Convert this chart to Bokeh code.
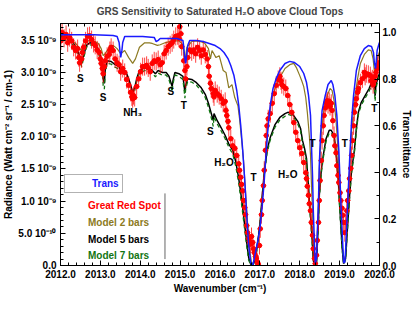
import numpy as np
from bokeh.plotting import figure
from bokeh.models import (Range1d, LinearAxis, FixedTicker, Legend, LegendItem,
                          ColumnDataSource, PrintfTickFormatter, CustomLabelingPolicy)
from bokeh.embed import file_html
from bokeh.resources import INLINE
from bokeh.core.properties import value

# ---------------- data ----------------
trans_wn = [2012.00, 2012.33, 2012.83, 2013.32, 2013.42, 2013.47, 2013.49, 2013.51, 2013.54, 2013.56,
            2013.61, 2014.06, 2014.35, 2014.40, 2014.45, 2014.50, 2014.92, 2015.07, 2015.09, 2015.11,
            2015.14, 2015.16, 2015.19, 2015.24, 2015.41, 2015.58, 2015.73, 2015.88, 2016.00, 2016.10,
            2016.20, 2016.27, 2016.35, 2016.42, 2016.47, 2016.52, 2016.57, 2016.62, 2016.67, 2016.72,
            2016.77, 2016.82, 2016.86, 2016.91, 2016.96, 2017.01, 2017.06, 2017.11, 2017.16, 2017.21,
            2017.26, 2017.33, 2017.41, 2017.50, 2017.63, 2017.75, 2017.87, 2018.00, 2018.10, 2018.17,
            2018.22, 2018.27, 2018.29, 2018.32, 2018.34, 2018.37, 2018.39, 2018.42, 2018.44, 2018.47,
            2018.49, 2018.52, 2018.56, 2018.64, 2018.71, 2018.79, 2018.83, 2018.88, 2018.93, 2018.98,
            2019.03, 2019.08, 2019.10, 2019.13, 2019.15, 2019.20, 2019.25, 2019.30, 2019.35, 2019.42,
            2019.52, 2019.62, 2019.72, 2019.80, 2019.85, 2019.87, 2019.90, 2019.92, 2019.94, 2019.99,
            2020.01]
trans_val = [0.990, 0.990, 0.990, 0.987, 0.983, 0.957, 0.923, 0.893, 0.923, 0.957,
             0.983, 0.983, 0.979, 0.961, 0.966, 0.974, 0.974, 0.966, 0.940, 0.900,
             0.867, 0.900, 0.944, 0.966, 0.966, 0.961, 0.953, 0.944, 0.931, 0.914,
             0.888, 0.858, 0.815, 0.751, 0.687, 0.601, 0.494, 0.365, 0.215, 0.086,
             0.013, 0.000, 0.030, 0.073, 0.116, 0.172, 0.258, 0.365, 0.494, 0.601,
             0.687, 0.760, 0.803, 0.837, 0.867, 0.876, 0.871, 0.854, 0.824, 0.785,
             0.730, 0.644, 0.536, 0.386, 0.236, 0.086, 0.009, 0.030, 0.129, 0.279,
             0.429, 0.558, 0.665, 0.730, 0.777, 0.794, 0.777, 0.730, 0.644, 0.494,
             0.279, 0.086, 0.013, 0.013, 0.064, 0.258, 0.451, 0.622, 0.730, 0.837,
             0.901, 0.931, 0.944, 0.940, 0.914, 0.871, 0.845, 0.880, 0.923, 0.953,
             0.961]

model2_wn = [2012.00, 2012.14, 2012.28, 2012.38, 2012.48, 2012.53, 2012.58, 2012.68, 2012.83, 2012.95,
             2013.02, 2013.07, 2013.12, 2013.22, 2013.32, 2013.42, 2013.51, 2013.61, 2013.71, 2013.81,
             2013.88, 2013.98, 2014.11, 2014.23, 2014.30, 2014.43, 2014.50, 2014.62, 2014.80, 2014.97,
             2015.07, 2015.12, 2015.17, 2015.29, 2015.46, 2015.61, 2015.71, 2015.76, 2015.80, 2015.90,
             2015.98, 2016.08, 2016.15, 2016.22, 2016.30, 2016.37, 2016.45, 2016.49, 2016.54, 2016.59,
             2016.64, 2016.69, 2016.74, 2016.79, 2016.84, 2016.89, 2016.94, 2016.99, 2017.04, 2017.09,
             2017.14, 2017.18, 2017.23, 2017.31, 2017.41, 2017.50, 2017.63, 2017.75, 2017.85, 2017.92,
             2018.00, 2018.05, 2018.10, 2018.15, 2018.19, 2018.24, 2018.27, 2018.29, 2018.32, 2018.34,
             2018.37, 2018.42, 2018.44, 2018.47, 2018.49, 2018.54, 2018.61, 2018.69, 2018.76, 2018.81,
             2018.86, 2018.91, 2018.96, 2019.01, 2019.06, 2019.10, 2019.15, 2019.20, 2019.25, 2019.30,
             2019.37, 2019.45, 2019.52, 2019.62, 2019.72, 2019.79, 2019.84, 2019.89, 2019.91, 2019.96,
             2020.01]
model2_rad = [3.56, 3.54, 3.49, 3.45, 3.37, 3.34, 3.40, 3.49, 3.49, 3.45,
              3.37, 3.26, 3.29, 3.39, 3.42, 3.37, 3.29, 3.34, 3.23, 3.14,
              3.21, 3.39, 3.46, 3.46, 3.45, 3.42, 3.43, 3.46, 3.49, 3.49,
              3.43, 3.18, 3.39, 3.48, 3.49, 3.46, 3.37, 3.21, 3.34, 3.23,
              3.26, 3.03, 3.00, 2.76, 2.81, 2.61, 2.48, 2.28, 1.97, 1.63,
              1.16, 0.67, 0.26, 0.05, 0.02, 0.16, 0.34, 0.57, 0.89, 1.24,
              1.63, 2.02, 2.33, 2.61, 2.80, 2.92, 3.06, 3.12, 3.14, 3.07,
              2.95, 2.87, 2.78, 2.61, 2.38, 2.02, 1.71, 1.32, 0.82, 0.39,
              0.08, 0.08, 0.51, 1.01, 1.48, 2.07, 2.44, 2.64, 2.75, 2.72,
              2.56, 2.25, 1.79, 1.01, 0.31, 0.05, 0.16, 0.78, 1.48, 2.10,
              2.56, 2.90, 3.14, 3.28, 3.35, 3.34, 3.21, 2.90, 3.03, 3.25,
              3.34]

model5_wn = [2012.00, 2012.09, 2012.18, 2012.28, 2012.38, 2012.46, 2012.50, 2012.53, 2012.58, 2012.65,
             2012.73, 2012.83, 2012.92, 2013.00, 2013.05, 2013.07, 2013.10, 2013.12, 2013.17, 2013.27,
             2013.37, 2013.47, 2013.51, 2013.56, 2013.64, 2013.71, 2013.76, 2013.81, 2013.86, 2013.91,
             2013.98, 2014.11, 2014.23, 2014.30, 2014.38, 2014.45, 2014.55, 2014.65, 2014.72, 2014.77,
             2014.80, 2014.82, 2014.87, 2014.97, 2015.07, 2015.09, 2015.12, 2015.14, 2015.19, 2015.29,
             2015.41, 2015.53, 2015.63, 2015.71, 2015.76, 2015.81, 2015.83, 2015.85, 2015.93, 2016.03,
             2016.13, 2016.22, 2016.32, 2016.40, 2016.47, 2016.52, 2016.57, 2016.62, 2016.67, 2016.72,
             2016.77, 2016.82, 2016.86, 2016.91, 2016.96, 2017.01, 2017.06, 2017.11, 2017.18, 2017.26,
             2017.38, 2017.50, 2017.63, 2017.70, 2017.80, 2017.87, 2017.95, 2018.02, 2018.07, 2018.12,
             2018.17, 2018.19, 2018.22, 2018.24, 2018.29, 2018.32, 2018.34, 2018.37, 2018.42, 2018.44,
             2018.47, 2018.49, 2018.54, 2018.59, 2018.66, 2018.74, 2018.79, 2018.86, 2018.91, 2018.96,
             2019.01, 2019.06, 2019.10, 2019.15, 2019.20, 2019.25, 2019.30, 2019.37, 2019.42, 2019.47,
             2019.54, 2019.64, 2019.74, 2019.82, 2019.87, 2019.89, 2019.91, 2019.96, 2020.01]
model5_rad = [3.57, 3.56, 3.54, 3.49, 3.40, 3.29, 3.21, 3.15, 3.26, 3.42,
              3.46, 3.45, 3.39, 3.26, 3.11, 2.90, 2.83, 3.03, 3.18, 3.17,
              3.12, 3.09, 3.03, 3.06, 3.01, 2.90, 2.80, 2.69, 2.76, 2.90,
              3.03, 3.07, 3.06, 3.03, 2.98, 3.03, 3.00, 3.00, 2.94, 2.84,
              2.78, 2.87, 3.00, 2.98, 2.94, 2.84, 2.69, 2.80, 2.90, 2.89,
              2.84, 2.76, 2.66, 2.52, 2.41, 2.30, 2.25, 2.36, 2.25, 2.14,
              2.02, 1.89, 1.79, 1.60, 1.35, 1.13, 0.89, 0.62, 0.36, 0.12,
              0.02, 0.00, 0.06, 0.20, 0.42, 0.70, 1.09, 1.44, 1.79, 1.99,
              2.19, 2.30, 2.36, 2.38, 2.36, 2.31, 2.24, 2.13, 1.94, 1.82,
              1.66, 1.48, 1.24, 1.01, 0.62, 0.31, 0.08, 0.00, 0.05, 0.31,
              0.70, 1.09, 1.48, 1.71, 1.97, 2.10, 2.10, 2.02, 1.79, 1.40,
              0.85, 0.31, 0.03, 0.11, 0.62, 1.09, 1.48, 1.79, 2.13, 2.38,
              2.53, 2.64, 2.75, 2.87, 2.80, 2.64, 2.80, 2.92, 3.00]

model7_wn = model5_wn
model7_rad = [3.55, 3.53, 3.51, 3.45, 3.36, 3.24, 3.15, 3.09, 3.22, 3.39,
              3.43, 3.42, 3.35, 3.21, 3.04, 2.80, 2.74, 2.98, 3.14, 3.13,
              3.08, 3.05, 2.97, 3.02, 2.97, 2.85, 2.74, 2.62, 2.71, 2.86,
              2.99, 3.03, 3.02, 2.99, 2.93, 2.99, 2.96, 2.96, 2.89, 2.78,
              2.70, 2.82, 2.96, 2.94, 2.89, 2.78, 2.60, 2.75, 2.86, 2.85,
              2.80, 2.71, 2.61, 2.46, 2.35, 2.22, 2.16, 2.31, 2.20, 2.09,
              1.97, 1.84, 1.73, 1.53, 1.27, 1.05, 0.81, 0.55, 0.30, 0.08,
              0.01, 0.00, 0.05, 0.18, 0.40, 0.67, 1.05, 1.40, 1.75, 1.95,
              2.15, 2.26, 2.32, 2.35, 2.33, 2.28, 2.20, 2.09, 1.89, 1.77,
              1.60, 1.42, 1.18, 0.95, 0.56, 0.26, 0.06, 0.00, 0.04, 0.28,
              0.66, 1.04, 1.43, 1.67, 1.93, 2.06, 2.06, 1.97, 1.74, 1.34,
              0.79, 0.26, 0.02, 0.09, 0.58, 1.05, 1.44, 1.75, 2.09, 2.34,
              2.49, 2.60, 2.71, 2.83, 2.74, 2.55, 2.75, 2.88, 2.96]

grs_wn = [2012.01, 2012.04, 2012.09, 2012.14, 2012.18, 2012.23, 2012.28, 2012.33, 2012.38, 2012.43,
          2012.46, 2012.48, 2012.53, 2012.55, 2012.58, 2012.63, 2012.68, 2012.73, 2012.78, 2012.83,
          2012.87, 2012.92, 2012.97, 2013.00, 2013.02, 2013.05, 2013.07, 2013.10, 2013.12, 2013.17,
          2013.22, 2013.24, 2013.27, 2013.32, 2013.37, 2013.42, 2013.47, 2013.51, 2013.56, 2013.61,
          2013.66, 2013.71, 2013.76, 2013.79, 2013.81, 2013.83, 2013.86, 2013.91, 2013.96, 2014.01,
          2014.06, 2014.11, 2014.16, 2014.20, 2014.25, 2014.30, 2014.35, 2014.40, 2014.45, 2014.50,
          2014.55, 2014.60, 2014.65, 2014.70, 2014.75, 2014.80, 2014.84, 2014.89, 2014.94, 2014.97,
          2014.99, 2015.02, 2015.04, 2015.09, 2015.12, 2015.14, 2015.17, 2015.19, 2015.24, 2015.29,
          2015.34, 2015.39, 2015.44, 2015.49, 2015.53, 2015.58, 2015.63, 2015.68, 2015.71, 2015.73,
          2015.76, 2015.78, 2015.83, 2015.85, 2015.88, 2015.93, 2015.98, 2016.03, 2016.08, 2016.13,
          2016.15, 2016.17, 2016.20, 2016.22, 2016.27, 2016.32, 2016.37, 2016.42, 2016.47, 2016.49,
          2016.52, 2016.54, 2016.57, 2016.59, 2016.62, 2016.64, 2016.67, 2016.69, 2016.72, 2016.74,
          2016.77, 2016.79, 2016.82, 2016.84, 2016.86, 2016.89, 2016.91, 2016.94, 2016.96, 2016.99,
          2017.01, 2017.04, 2017.06, 2017.09, 2017.11, 2017.14, 2017.16, 2017.18, 2017.21, 2017.26,
          2017.31, 2017.36, 2017.41, 2017.46, 2017.50, 2017.53, 2017.55, 2017.60, 2017.65, 2017.70,
          2017.75, 2017.80, 2017.85, 2017.90, 2017.95, 2018.00, 2018.05, 2018.10, 2018.15, 2018.17,
          2018.19, 2018.22, 2018.24, 2018.27, 2018.29, 2018.32, 2018.34, 2018.37, 2018.39, 2018.42,
          2018.44, 2018.47, 2018.49, 2018.51, 2018.54, 2018.56, 2018.59, 2018.61, 2018.64, 2018.66,
          2018.69, 2018.71, 2018.74, 2018.76, 2018.79, 2018.81, 2018.83, 2018.86, 2018.88, 2018.91,
          2018.93, 2018.96, 2018.98, 2019.01, 2019.03, 2019.06, 2019.08, 2019.10, 2019.13, 2019.15,
          2019.18, 2019.20, 2019.23, 2019.25, 2019.28, 2019.30, 2019.32, 2019.35, 2019.37, 2019.40,
          2019.42, 2019.45, 2019.47, 2019.52, 2019.57, 2019.62, 2019.64, 2019.67, 2019.72, 2019.77,
          2019.79, 2019.82, 2019.84, 2019.87, 2019.89, 2019.91, 2019.94, 2019.96, 2019.99]
grs_rad = [3.49, 3.62, 3.53, 3.59, 3.46, 3.54, 3.49, 3.39, 3.34, 3.37,
           3.23, 3.15, 3.21, 3.31, 3.39, 3.49, 3.56, 3.57, 3.51, 3.45,
           3.42, 3.35, 3.31, 3.21, 3.14, 3.06, 2.98, 3.09, 3.18, 3.25,
           3.28, 3.34, 3.39, 3.34, 3.21, 3.15, 3.12, 3.01, 3.06, 3.00,
           2.89, 2.80, 2.69, 2.62, 2.59, 2.64, 2.61, 2.78, 2.90, 3.01,
           3.09, 3.09, 3.11, 3.07, 3.01, 3.14, 3.18, 3.17, 3.20, 3.12,
           3.15, 3.29, 3.34, 3.40, 3.43, 3.46, 3.51, 3.56, 3.57, 3.53,
           3.71, 3.60, 3.40, 3.18, 3.03, 2.90, 3.09, 3.23, 3.35, 3.32,
           3.35, 3.29, 3.39, 3.34, 3.26, 3.35, 3.28, 3.21, 3.09, 2.94,
           2.83, 2.75, 2.67, 2.62, 2.72, 2.67, 2.64, 2.59, 2.52, 2.55,
           2.41, 2.33, 2.24, 2.14, 1.97, 1.86, 1.82, 1.71, 1.58, 1.48,
           1.37, 1.26, 1.16, 1.01, 0.90, 0.79, 0.62, 0.51, 0.42, 0.37,
           0.33, 0.45, 0.36, 0.26, 0.20, 0.14, 0.11, 0.05, 0.02, 0.31,
           0.57, 0.79, 1.01, 1.24, 1.48, 1.79, 2.02, 2.17, 2.28, 2.36,
           2.52, 2.67, 2.80, 2.89, 2.94, 2.87, 2.81, 2.78, 2.75, 2.64,
           2.50, 2.38, 2.22, 2.07, 1.94, 1.83, 1.74, 1.60, 1.44, 1.35,
           1.23, 1.09, 0.96, 0.85, 0.67, 0.47, 0.26, 0.11, 0.03, 0.16,
           0.39, 0.67, 1.01, 1.32, 1.63, 1.94, 2.17, 2.33, 2.45, 2.53,
           2.56, 2.50, 2.55, 2.47, 2.52, 2.41, 2.25, 2.02, 1.86, 1.75,
           1.55, 1.40, 1.29, 1.13, 1.01, 0.89, 0.78, 0.67, 0.51, 0.67,
           0.85, 1.01, 1.16, 1.35, 1.51, 1.71, 1.94, 2.17, 2.38, 2.50,
           2.59, 2.69, 2.75, 2.84, 2.90, 3.00, 2.94, 2.98, 2.97, 2.95,
           2.87, 2.90, 2.81, 2.87, 2.94, 3.00, 3.06, 3.12, 3.15]
grs_err_rad = 0.14     # 1-sigma radiance error (1e-9 units)
grs_err_wn = 0.07      # spectral half-resolution (cm-1)

feature_labels = ["S", "S", "NH\u2083", "S", "T", "S", "H\u2082O", "T", "H\u2082O", "T", "T", "T"]
feature_wn = [2012.50, 2013.07, 2013.81, 2014.77, 2015.09, 2015.76, 2016.10, 2016.84, 2017.70, 2018.32, 2019.13, 2019.87]
feature_rad = [2.90, 2.61, 2.38, 2.70, 2.48, 2.08, 1.60, 1.37, 1.41, 1.89, 1.89, 2.44]

x_major = [2012, 2013, 2014, 2015, 2016, 2017, 2018, 2019, 2020]
rad_major = [0.0, 0.5, 1.0, 1.5, 2.0, 2.5, 3.0, 3.5]
rad_labels = ["0.0", "5.0 10\u207b\u00b9\u2070", "1.0 10\u207b\u2079", "1.5 10\u207b\u2079",
              "2.0 10\u207b\u2079", "2.5 10\u207b\u2079", "3.0 10\u207b\u2079", "3.5 10\u207b\u2079"]
tr_major = [0.0, 0.2, 0.4, 0.6, 0.8, 1.0]

# ---------------- styling ----------------
FONT = "Liberation Sans"
BLUE = "#1a1aff"
RED = "#ff0000"
OLIVE = "#8c7a22"
GREEN = "#127512"

p = figure(width=415, height=302, output_backend="svg", toolbar_location=None,
           x_range=Range1d(2012.0, 2020.0), y_range=Range1d(0.0, 3.76),
           min_border_left=56, min_border_right=33, min_border_top=23, min_border_bottom=37,
           title="GRS Sensitivity to Saturated H\u2082O above Cloud Tops")
p.extra_y_ranges = {"trans": Range1d(0.0, 1.0386)}
p.xgrid.visible = False
p.ygrid.visible = False
p.outline_line_color = "black"
p.outline_line_width = 1
p.background_fill_color = "white"
p.border_fill_color = "white"
p.title.text_font = FONT
p.title.text_font_size = "10px"
p.title.text_font_style = "bold"
p.title.align = "center"
p.title.standoff = 0
p.title.offset = 0
p.title.padding = 3


def style_axis(ax):
    ax.axis_line_color = "black"
    ax.major_tick_line_color = "black"
    ax.minor_tick_line_color = "black"
    ax.major_tick_in = 5
    ax.major_tick_out = 0
    ax.minor_tick_in = 3
    ax.minor_tick_out = 0
    ax.major_label_text_font = FONT
    ax.major_label_text_font_size = "10px"
    ax.major_label_text_font_style = "bold"
    ax.major_label_text_color = "black"
    ax.axis_label_text_font = FONT
    ax.axis_label_text_font_size = "10px"
    ax.axis_label_text_font_style = "bold"
    ax.axis_label_text_color = "black"


x_minor = [round(v, 1) for v in np.arange(2012.0, 2020.01, 0.2)]
xb = p.xaxis[0]
style_axis(xb)
xb.ticker = FixedTicker(ticks=x_major, minor_ticks=x_minor)
xb.formatter = PrintfTickFormatter(format="%.1f")
xb.axis_label = "Wavenumber (cm\u207b\u00b9)"
xb.major_label_standoff = 4
xb.axis_label_standoff = 2

yl = p.yaxis[0]
style_axis(yl)
yl.ticker = FixedTicker(ticks=rad_major, minor_ticks=[round(v, 1) for v in np.arange(0, 3.76, 0.1)])
yl.major_label_overrides = {t: s for t, s in zip(rad_major, rad_labels)}
yl.axis_label = "Radiance (Watt cm\u207b\u00b2 sr\u207b\u00b9 / cm-1)"
yl.major_label_standoff = 4
yl.axis_label_standoff = 1

yr = LinearAxis(y_range_name="trans",
                ticker=FixedTicker(ticks=tr_major, minor_ticks=[round(v, 2) for v in np.arange(0, 1.04, 0.1)]),
                formatter=PrintfTickFormatter(format="%.1f"), axis_label="Transmittance")
style_axis(yr)
yr.major_label_standoff = 3
yr.axis_label_standoff = 2
p.add_layout(yr, "right")

xt = LinearAxis(ticker=FixedTicker(ticks=x_major, minor_ticks=x_minor))
style_axis(xt)
xt.major_label_policy = CustomLabelingPolicy(code="return []")
xt.major_label_text_font_size = "1px"
xt.major_label_standoff = 0
p.add_layout(xt, "above")

# ---------------- glyphs ----------------
p.line(model2_wn, model2_rad, line_color=OLIVE, line_width=1.2)
p.line(model5_wn, model5_rad, line_color="black", line_width=1.5)
p.line(model7_wn, model7_rad, line_color=GREEN, line_width=1.3, line_dash="4 3")

gx = np.array(grs_wn)
gy = np.array(grs_rad)
src = ColumnDataSource(dict(x=gx, y=gy, y0=gy - grs_err_rad, y1=gy + grs_err_rad,
                            x0=gx - grs_err_wn, x1=gx + grs_err_wn))
p.segment(x0="x", y0="y0", x1="x", y1="y1", source=src, line_color=RED, line_width=1, line_alpha=0.75)
p.segment(x0="x0", y0="y", x1="x1", y1="y", source=src, line_color=RED, line_width=1, line_alpha=0.75)
p.scatter("x", "y", source=src, size=4.5, fill_color=RED, line_color=RED)

p.line(trans_wn, trans_val, y_range_name="trans", line_color=BLUE, line_width=1.5)

p.text(x=feature_wn, y=feature_rad, text=feature_labels, text_font=value(FONT),
       text_font_size="10px", text_font_style="bold", text_color="black",
       text_align="center", text_baseline="middle")

# legend-only renderers
r_tr = p.line([], [], line_color=BLUE, line_width=1.5)
r_grs = p.scatter([], [], size=4, fill_color=RED, line_color=RED)
r_m2 = p.line([], [], line_color=OLIVE, line_width=1)
r_m5 = p.line([], [], line_color="#808080", line_width=3)
r_m7 = p.line([], [], line_color=GREEN, line_width=1.3, line_dash="4 3")

# frame line of the lower legend block
p.segment(x0=[2014.62], y0=[0.1], x1=[2014.62], y1=[1.12], line_color="#666666", line_width=1)

leg_specs = [(r_tr, "Trans", BLUE, 72, True),
             (r_grs, "Great Red Spot", RED, 54, False),
             (r_m2, "Model 2 bars", OLIVE, 37, False),
             (r_m5, "Model 5 bars", "black", 20, False),
             (r_m7, "Model 7 bars", GREEN, 4, False)]
for rend, lab, col, ypos, border in leg_specs:
    lg = Legend(items=[LegendItem(label=lab, renderers=[rend])], location=(4, ypos),
                label_text_font=FONT, label_text_font_size="10px", label_text_font_style="bold",
                label_text_color=col, glyph_width=22, glyph_height=11, label_height=11,
                label_standoff=2, padding=3, spacing=0, margin=0,
                background_fill_alpha=0.0,
                border_line_color="#666666" if border else None, border_line_width=1)
    p.add_layout(lg)

open("out.html", "w").write(file_html(p, INLINE))
